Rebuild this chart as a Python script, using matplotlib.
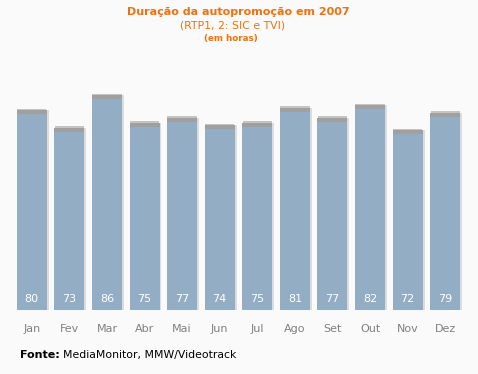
import matplotlib.pyplot as plt
import numpy as np

meses = ["Jan", "Fev", "Mar", "Abr", "Mai", "Jun", "Jul", "Ago", "Set", "Out", "Nov", "Dez"]
horas = [80, 73, 86, 75, 77, 74, 75, 81, 77, 82, 72, 79]

bg = "#fafafa"
fig = plt.figure(figsize=(4.78, 3.74), dpi=100, facecolor=bg)
ax = fig.add_axes([13 / 478, 1 - 310 / 374, 451 / 478, 250 / 374])
ax.set_facecolor(bg)

x = np.arange(len(meses))
vals = np.array(horas)
cap = 1.6
# sombra lateral clara
ax.bar(x + 0.03, vals, width=0.84, color="#dcdcdc", zorder=1)
ax.bar(x, vals, width=0.80, color="#93adc4", zorder=2)
# topo cinzento
ax.bar(x, cap, bottom=vals - cap, width=0.80, color="#a0a0a0", zorder=3)
ax.bar(x, 0.6, bottom=vals, width=0.78, color="#c4c4c4", zorder=3)

for xi, v in zip(x, horas):
    ax.text(xi, 4.6, str(v), color="white", ha="center", va="center", fontsize=8, zorder=4)

ax.set_xlim(-0.5, len(meses) - 0.5)
ax.set_ylim(0, 100)
ax.set_xticks(x)
ax.set_xticklabels(meses, color="#808080", fontsize=8)
ax.tick_params(axis="x", length=0, pad=10)
ax.set_yticks([])
for s in ax.spines.values():
    s.set_visible(False)

laranja = "#f07010"
fig.text(238 / 478, 1 - 12 / 374, "Duração da autopromoção em 2007", color=laranja,
         ha="center", va="center", fontsize=8, fontweight="bold")
fig.text(233 / 478, 1 - 25 / 374, "(RTP1, 2: SIC e TVI)", color=laranja,
         ha="center", va="center", fontsize=7.8)
fig.text(231 / 478, 1 - 38 / 374, "(em horas)", color=laranja,
         ha="center", va="center", fontsize=6.3, fontweight="bold")

fig.text(20 / 478, 1 - 355 / 374, "Fonte:", color="black", ha="left", va="center",
         fontsize=8, fontweight="bold")
fig.text(63 / 478, 1 - 355 / 374, "MediaMonitor, MMW/Videotrack", color="black",
         ha="left", va="center", fontsize=7.8)

fig.savefig("out.png", dpi=100, facecolor=bg)
